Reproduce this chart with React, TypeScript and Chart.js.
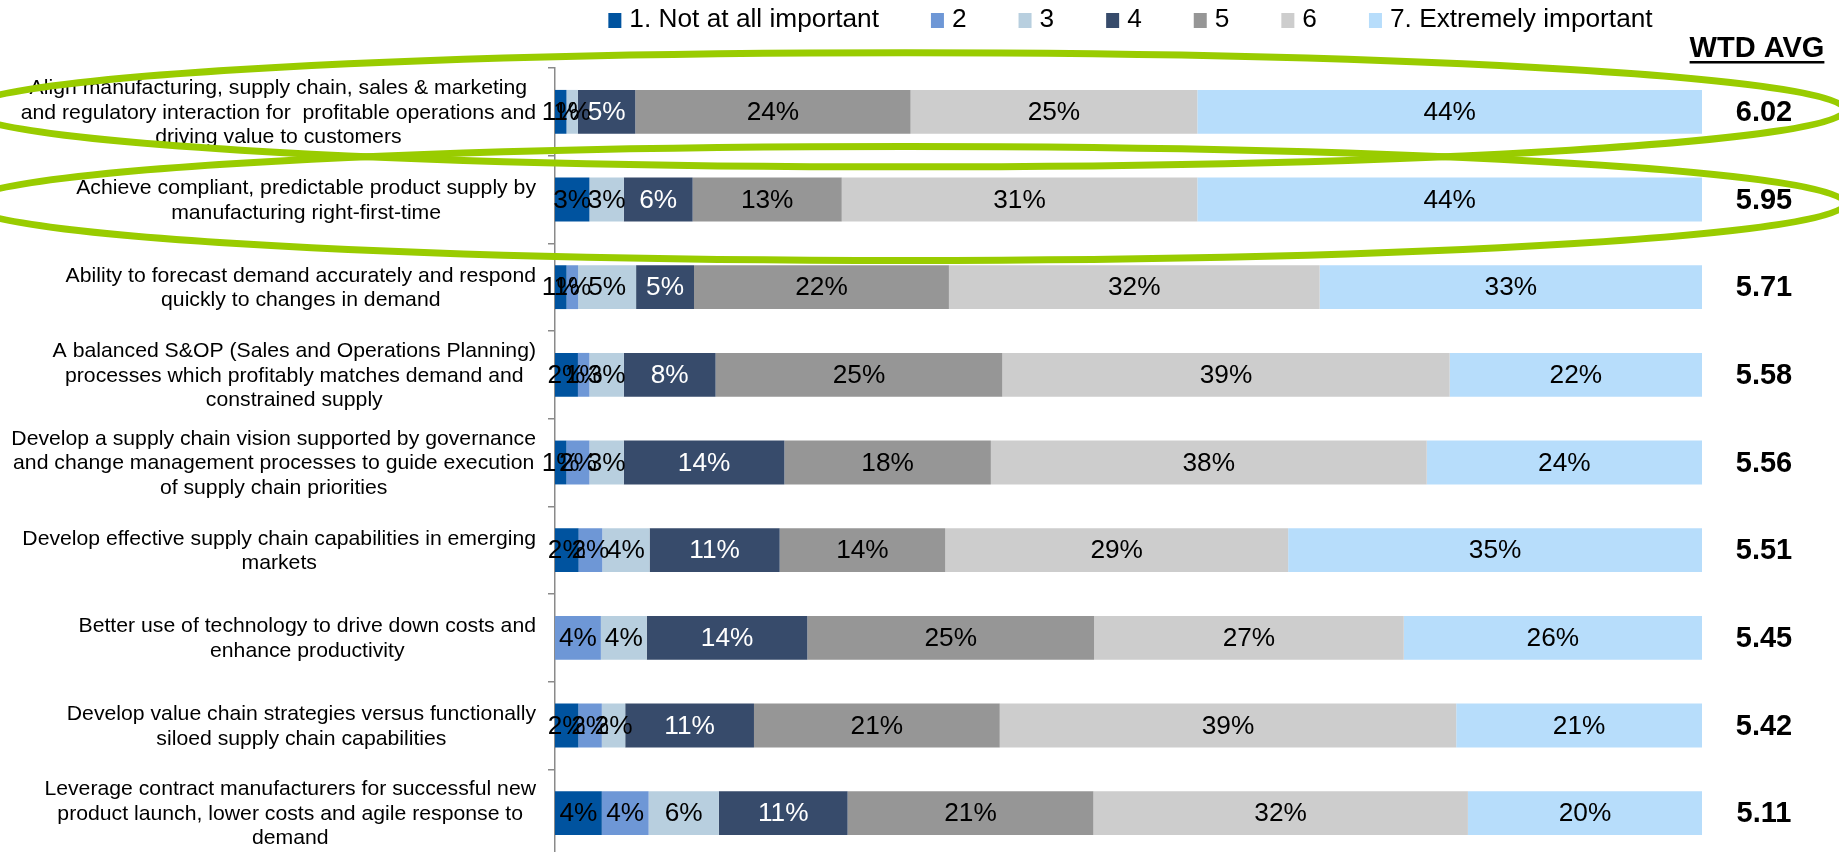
import { useEffect, useRef } from 'react';
import { Chart, registerables } from 'chart.js';

Chart.register(...registerables);

const FONT = '"Liberation Sans", Arial, Helvetica, sans-serif';

// Category labels (line breaks as in the reference)
const categories: string[][] = [
  ['Align manufacturing, supply chain, sales & marketing', 'and regulatory interaction for  profitable operations and', 'driving value to customers'],
  ['Achieve compliant, predictable product supply by', 'manufacturing right-first-time'],
  ['Ability to forecast demand accurately and respond', 'quickly to changes in demand'],
  ['A balanced S&OP (Sales and Operations Planning)', 'processes which profitably matches demand and', 'constrained supply'],
  ['Develop a supply chain vision supported by governance', 'and change management processes to guide execution', 'of supply chain priorities'],
  ['Develop effective supply chain capabilities in emerging', 'markets'],
  ['Better use of technology to drive down costs and', 'enhance productivity'],
  ['Develop value chain strategies versus functionally', 'siloed supply chain capabilities'],
  ['Leverage contract manufacturers for successful new', 'product launch, lower costs and agile response to', 'demand'],
];

const seriesLabels = ['1. Not at all important', '2', '3', '4', '5', '6', '7. Extremely important'];

// Percent of respondents per rating (as labelled in the reference)
const s1 = [1, 3, 1, 2, 1, 2, 0, 2, 4];
const s2 = [0, 0, 1, 1, 2, 2, 4, 2, 4];
const s3 = [1, 3, 5, 3, 3, 4, 4, 2, 6];
const s4 = [5, 6, 5, 8, 14, 11, 14, 11, 11];
const s5 = [24, 13, 22, 25, 18, 14, 25, 21, 21];
const s6 = [25, 31, 32, 39, 38, 29, 27, 39, 32];
const s7 = [44, 44, 33, 22, 24, 35, 26, 21, 20];
const seriesValues = [s1, s2, s3, s4, s5, s6, s7];

const wtdAvg = [6.02, 5.95, 5.71, 5.58, 5.56, 5.51, 5.45, 5.42, 5.11];

const seriesColors = ['#00539F', '#6E97D6', '#B8CFDF', '#374B6B', '#969696', '#CDCDCD', '#B7DDFB'];
const labelColors = ['#000', '#000', '#000', '#fff', '#000', '#000', '#000'];

function stretchText(ctx: CanvasRenderingContext2D, text: string, x: number, y: number, sx: number, align: CanvasTextAlign) {
  ctx.save();
  ctx.translate(x, y);
  ctx.scale(sx, 1);
  ctx.textAlign = align;
  ctx.fillText(text, 0, 0);
  ctx.restore();
}

const overlay = {
  id: 'overlay',
  afterDraw(chart: any) {
    const { ctx, chartArea, scales } = chart;
    const y = scales.y;
    ctx.save();

    // segment labels
    ctx.textBaseline = 'middle';
    ctx.font = `26px ${FONT}`;
    seriesValues.forEach((s, i) => {
      const meta = chart.getDatasetMeta(i);
      meta.data.forEach((el: any, j: number) => {
        const v = s[j];
        if (!v) return;
        const p = el.getCenterPoint();
        ctx.fillStyle = labelColors[i];
        stretchText(ctx, `${v}%`, p.x, p.y + 1, 1.01, 'center');
      });
    });

    // category labels (block right-aligned, lines centred)
    ctx.font = `21px ${FONT}`;
    ctx.fillStyle = '#000';
    const sxL = 1.01;
    categories.forEach((lines, j) => {
      const cy = y.getPixelForValue(j);
      const maxW = Math.max(...lines.map((l) => ctx.measureText(l).width * sxL));
      const cx = chartArea.left - 19 - maxW / 2;
      lines.forEach((l, k) => {
        stretchText(ctx, l, cx, cy + (k - (lines.length - 1) / 2) * 24.5 + 1, sxL, 'center');
      });
    });

    // weighted averages
    ctx.font = `bold 29px ${FONT}`;
    wtdAvg.forEach((v, j) => {
      stretchText(ctx, v.toFixed(2), chartArea.right + 62, y.getPixelForValue(j) + 1, 1.0, 'center');
    });

    // header
    ctx.textBaseline = 'alphabetic';
    ctx.font = `bold 29px ${FONT}`;
    const hx = chartArea.right + 55;
    const hw = ctx.measureText('WTD AVG').width;
    stretchText(ctx, 'WTD AVG', hx, 57, 1.0, 'center');
    ctx.fillRect(hx - hw / 2, 61, hw, 2.5);

    // legend
    ctx.font = `26px ${FONT}`;
    const sxG = 1.01;
    const boxW = 13, boxH = 15, boxGap = 8, itemGap = 52;
    const tw = seriesLabels.map((t) => ctx.measureText(t).width * sxG);
    const total = tw.reduce((a, b) => a + b, 0) + seriesLabels.length * (boxW + boxGap) + (seriesLabels.length - 1) * itemGap;
    let lx = (chartArea.left + chartArea.right) / 2 + 2 - total / 2;
    seriesLabels.forEach((t, i) => {
      ctx.fillStyle = seriesColors[i];
      ctx.fillRect(lx, 13, boxW, boxH);
      ctx.fillStyle = '#000';
      stretchText(ctx, t, lx + boxW + boxGap, 27, sxG, 'left');
      lx += boxW + boxGap + tw[i] + itemGap;
    });

    // highlight ellipses around the two top items
    ctx.strokeStyle = '#99CC00';
    ctx.lineWidth = 7;
    const ecx = chart.width / 2 - 14;
    const erx = 940;
    const ery = 57;
    [y.getPixelForValue(0) - 2, y.getPixelForValue(1) + 4].forEach((ecy) => {
      ctx.beginPath();
      ctx.ellipse(ecx, ecy, erx, ery, 0, 0, Math.PI * 2);
      ctx.stroke();
    });

    ctx.restore();
  },
};

export default function App() {
  const ref = useRef<HTMLCanvasElement>(null);
  useEffect(() => {
    const canvas = ref.current!;
    const sums = categories.map((_, j) => seriesValues.reduce((a, s) => a + s[j], 0));
    const datasets = seriesValues.map((s, i) => ({
      label: seriesLabels[i],
      data: s.map((v, j) => (v / sums[j]) * 100),
      backgroundColor: seriesColors[i],
      borderWidth: 0,
      barPercentage: 0.5,
      categoryPercentage: 1,
    }));
    const chart = new Chart(canvas, {
      type: 'bar',
      data: { labels: categories.map((c) => c.join(' ')), datasets },
      options: {
        indexAxis: 'y',
        responsive: false,
        animation: false,
        devicePixelRatio: 1,
        events: [],
        layout: { padding: { top: 68, right: 137, bottom: 3, left: 0 } },
        plugins: {
          legend: { display: false },
          tooltip: { enabled: false },
          title: { display: false },
        },
        scales: {
          x: { stacked: true, min: 0, max: 100, display: false },
          y: {
            stacked: true,
            offset: true,
            grid: { offset: true, drawOnChartArea: false, drawTicks: true, tickLength: 7, color: '#8a8a8a', lineWidth: 1.5 },
            border: { display: true, color: '#8a8a8a', width: 1.5 },
            ticks: { display: false },
            afterFit: (s: any) => {
              s.width = 555;
            },
          },
        },
      } as any,
      plugins: [overlay],
    });
    return () => chart.destroy();
  }, []);
  return (
    <div style={{ position: 'fixed', left: 0, top: 0, width: 1839, height: 852, overflow: 'hidden', background: '#fff' }}>
      <canvas ref={ref} width={1839} height={860} style={{ display: 'block' }} />
    </div>
  );
}
